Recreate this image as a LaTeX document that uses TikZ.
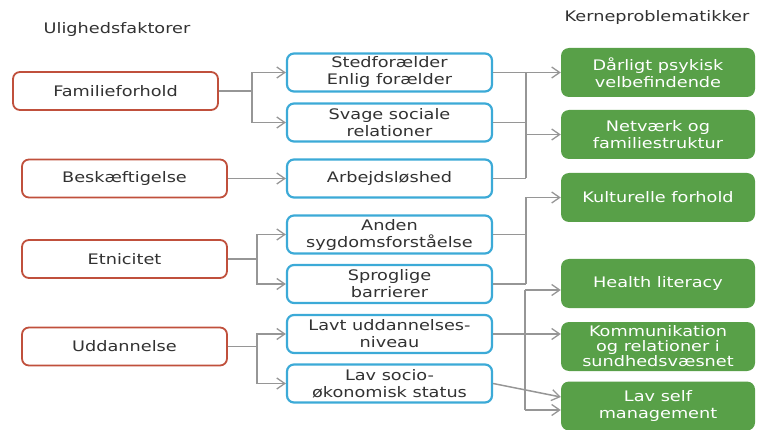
\documentclass[tikz,border=0pt]{standalone}
\usepackage{fontspec}
\setmainfont{DejaVu Sans}[FakeStretch=1.22]
\usetikzlibrary{arrows.meta,positioning}
\definecolor{factorred}{RGB}{192,80,60}
\definecolor{midblue}{RGB}{60,170,215}
\definecolor{coregreen}{RGB}{88,160,72}
\definecolor{linegrey}{RGB}{150,150,150}
\definecolor{textgrey}{RGB}{50,50,50}

\begin{document}
\begin{tikzpicture}[x=1pt, y=-1pt,
  every node/.style={font=\fontsize{14.5}{17}\selectfont, text=textgrey, align=center},
  factor/.style={draw=factorred, line width=1.8pt, fill=white, rounded corners=7pt,
    minimum width=205pt, minimum height=38pt, inner sep=0pt},
  cause/.style={draw=midblue, line width=2.2pt, fill=white, rounded corners=7pt,
    minimum width=205pt, minimum height=38pt, inner sep=0pt},
  core/.style={fill=coregreen, rounded corners=8pt, text=white,
    minimum width=194pt, minimum height=49pt, inner sep=0pt},
  link/.style={draw=linegrey, line width=1.5pt},
  linkarrow/.style={link, -{Straight Barb[length=8pt,width=11pt,line width=1.3pt]}}]
  \useasboundingbox (0,0) rectangle (757,430);

  % Titles
  \node (lefttitle) at (117,30) {Ulighedsfaktorer};
  \node (righttitle) at (657,18) {Kerneproblematikker};

  % Inequality factors
  \node[factor] (fam) at (115.5,91) {Familieforhold};
  \node[factor] (besk) at (124.5,178.5) {Beskæftigelse};
  \node[factor] (etn) at (124.5,259) {Etnicitet};
  \node[factor] (udd) at (124.5,346.5) {Uddannelse};

  % Intermediate causes
  \node[cause] (sted) at (389.5,72.5) {Stedforælder\\Enlig forælder};
  \node[cause] (svage) at (389.5,122.5) {Svage sociale\\relationer};
  \node[cause] (arb) at (389.5,178.5) {Arbejdsløshed};
  \node[cause] (anden) at (389.5,234.5) {Anden\\sygdomsforståelse};
  \node[cause] (sprog) at (389.5,284) {Sproglige\\barrierer};
  \node[cause] (lavt) at (389.5,334) {Lavt uddannelses-\\niveau};
  \node[cause] (socio) at (389.5,383.5) {Lav socio-\\økonomisk status};

  % Core problems
  \node[core] (psyk) at (658,72.5) {Dårligt psykisk\\velbefindende};
  \node[core] (netv) at (658,134.5) {Netværk og\\familiestruktur};
  \node[core] (kult) at (658,197.5) {Kulturelle forhold};
  \node[core] (hlit) at (658,283.5) {Health literacy};
  \node[core, font=\fontsize{14.5}{15}\selectfont] (komm) at (658,346.5) {Kommunikation\\og relationer i\\sundhedsvæsnet};
  \node[core] (self) at (658,406) {Lav self\\management};

  % Junction points
  \coordinate (jfam) at (252,91);
  \coordinate (jetn) at (257,259);
  \coordinate (judd) at (257,346.5);
  \coordinate (jtopa) at (526,72.5);
  \coordinate (jtopb) at (526,178.5);
  \coordinate (jmida) at (526,197.5);
  \coordinate (jmidb) at (526,284);
  \coordinate (jlowa) at (525,290);
  \coordinate (jlowb) at (525,410);

  % Factors to causes
  \draw[link] (fam) -- (jfam);
  \draw[linkarrow] (jfam) |- (sted);
  \draw[linkarrow] (jfam) |- (svage);
  \draw[linkarrow] (besk) -- (arb);
  \draw[link] (etn) -- (jetn);
  \draw[linkarrow] (jetn) |- (anden);
  \draw[linkarrow] (jetn) |- (sprog);
  \draw[link] (udd) -- (judd);
  \draw[linkarrow] (judd) |- (lavt);
  \draw[linkarrow] (judd) |- (socio);

  % Causes to core problems
  \draw[link] (sted) -- (jtopa);
  \draw[link] (svage) -- (svage -| jtopa);
  \draw[link] (arb) -- (jtopb);
  \draw[link] (jtopa) -- (jtopb);
  \draw[linkarrow] (jtopa) -- (psyk);
  \draw[linkarrow] (jtopa |- netv) -- (netv);
  \draw[link] (anden) -- (anden -| jmida);
  \draw[link] (sprog) -- (jmidb);
  \draw[link] (jmida) -- (jmidb);
  \draw[linkarrow] (jmida) -- (kult);
  \draw[linkarrow] (lavt) -- (lavt -| komm.west);
  \draw[link] (jlowa) -- (jlowb);
  \draw[linkarrow] (jlowa) -- (jlowa -| hlit.west);
  \draw[linkarrow] (jlowb) -- (jlowb -| self.west);
  \draw[linkarrow] (socio.east) -- ([yshift=9pt]self.west);
\end{tikzpicture}
\end{document}
